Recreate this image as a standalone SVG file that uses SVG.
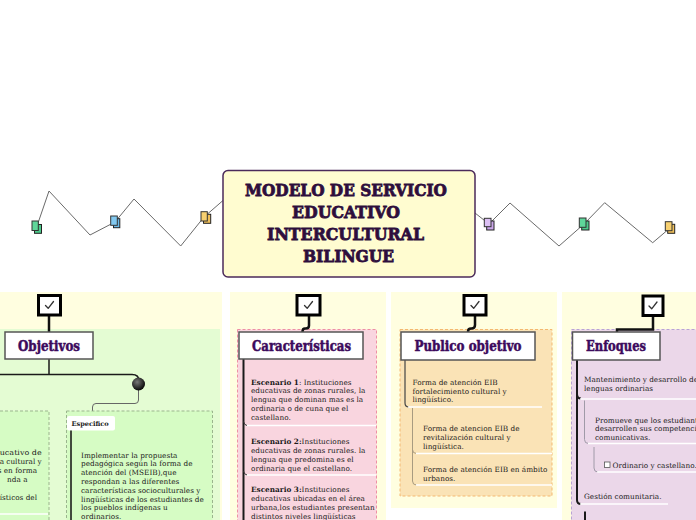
<svg xmlns="http://www.w3.org/2000/svg" width="696" height="520" viewBox="0 0 696 520">
<defs>
<radialGradient id="ball" cx="0.4" cy="0.35" r="0.7">
<stop offset="0" stop-color="#777"/>
<stop offset="1" stop-color="#000"/>
</radialGradient>
<path id="tick" d="M-4,0.5 L-1.3,3.3 L4,-3.5" fill="none" stroke="#333" stroke-width="1.3" stroke-linecap="round" stroke-linejoin="round"/>
<style>
.bg{fill:#fffee0}
.zig{fill:none;stroke:#6a6a6a;stroke-width:1}
.ibk{stroke:#222;stroke-width:1}
.ifr{stroke:#333;stroke-width:1}
.title{font-family:"DejaVu Serif",serif;font-weight:bold;font-size:17px;fill:#2e0e3c;stroke:#2e0e3c;stroke-width:0.8;text-anchor:middle}
.head{font-family:"DejaVu Serif",serif;font-weight:bold;font-size:14px;fill:#3c0a5c;stroke:#3c0a5c;stroke-width:0.5;text-anchor:middle}
.hbox{fill:#fff;stroke:#555;stroke-width:1.5}
.chk{fill:#fff;stroke:#000;stroke-width:3}
.t{font-family:"DejaVu Serif",serif;font-size:7.3px;fill:#1a1a1a}
.tb{font-weight:bold}
.dash{stroke-width:1;stroke-dasharray:3,2}
.blk{fill:none;stroke:#1a1a1a;stroke-width:2}
.thin{fill:none;stroke:#444;stroke-width:1.2}
.gry{fill:none;stroke:#a89b80;stroke-width:1}
.wht{fill:none;stroke:#fff;stroke-width:1.5}
</style>
</defs>
<rect width="696" height="520" fill="#fff"/>

<!-- panel backgrounds -->
<g id="panels">
<rect class="bg" x="0" y="292" width="222" height="228"/>
<rect x="0" y="329" width="220" height="191" fill="#e4fcd3"/>
<rect class="bg" x="230" y="292" width="156" height="228"/>
<rect x="237.5" y="329.5" width="139" height="200" fill="#f9d5df" stroke="#ee8fa5" class="dash"/>
<rect class="bg" x="391" y="292" width="166" height="216"/>
<rect x="400" y="329.5" width="152" height="166.5" fill="#fae3b6" stroke="#f4b870" class="dash"/>
<rect class="bg" x="562" y="292" width="140" height="228"/>
<rect x="571.5" y="329.5" width="130" height="200" fill="#ebd7e9" stroke="#b9a3d6" class="dash"/>
</g>

<!-- connectors -->
<g id="connectors">
<polyline class="zig" points="223,200.5 204,217 180.7,246 134,199 115,222 90,235 49,191 37,226"/>
<polyline class="zig" points="475,213 489,224 510,203 559,246 584,224 604.7,202.7 652.7,242.7 670,228"/>
<!-- Objetivos -->
<line x1="49" y1="316" x2="49" y2="332" stroke="#111" stroke-width="2.5"/>
<path class="blk" style="stroke-width:1.5" d="M49,359 V374.5 M0,374.5 H132 Q139,374.5 139,381"/>
<path fill="none" stroke="#666" stroke-width="1" d="M138.5,390 V400 Q138.5,403.5 135,403.5 H96 Q92.5,403.5 92.5,407 V411"/>
<!-- Caracteristicas -->
<path d="M309,316 V325.5 Q309,328.5 306,328.5 H305 Q302.5,328.5 302.5,331.5 V332" fill="none" stroke="#111" stroke-width="2.5"/>
<line class="blk" x1="243.5" y1="359" x2="243.5" y2="520"/>
<path class="wht" d="M246,425.5 H376 M246,475 H376"/>
<path d="M243.5,421.5 Q244,425 247,425.5 M243.5,471 Q244,474.5 247,475" fill="none" stroke="#333" stroke-width="1"/>
<!-- Publico objetivo -->
<path d="M475,316 V325 Q475,328.5 471.5,328.5 H471 Q468,328.5 468,331.5 V332" fill="none" stroke="#111" stroke-width="2.5"/>
<path class="thin" d="M405,360 V403 Q405,407 409,407"/>
<line class="wht" x1="408" y1="407" x2="542" y2="407"/>
<path class="gry" d="M412.5,408 V449.5 Q412.5,453.5 416.5,453.5 M412.5,449 V481 Q412.5,485 416.5,485"/>
<path class="wht" d="M416,453.5 H552 M416,485 H552"/>
<!-- Enfoques -->
<path d="M653,317 V329.5 H617 V332" fill="none" stroke="#111" stroke-width="2.5"/>
<path class="blk" d="M577,360 V500 Q577,504 581,504 M577,394 Q577,398.5 581,398.5"/>
<path class="wht" d="M580,399 H696 M580,504 H668"/>
<path class="gry" style="stroke:#a09aa8" d="M584.5,400.5 V439.5 Q584.5,443.5 588.5,443.5"/>
<line class="wht" x1="588" y1="443.5" x2="696" y2="443.5"/>
<path class="gry" style="stroke:#a09aa8" d="M594,447 V468 Q594,472 598,472"/>
<line class="wht" x1="597" y1="472" x2="696" y2="472"/>
<line class="blk" x1="585" y1="511.5" x2="585" y2="520"/>
</g>

<!-- icons on zigzag -->
<g id="icons">
<rect class="ibk" x="34.5" y="224.5" width="7" height="8.8" fill="#4cc98a"/>
<rect class="ifr" x="32" y="221" width="6.3" height="9.5" fill="#5fd69a"/>
<rect class="ibk" x="113.5" y="218.7" width="6.3" height="9" fill="#6ab8e6"/>
<rect class="ifr" x="110.7" y="216" width="6.6" height="9.3" fill="#82c8ef"/>
<rect class="ibk" x="203.5" y="214.3" width="7.2" height="9" fill="#f0c05a"/>
<rect class="ifr" x="201" y="211.7" width="6.3" height="9.3" fill="#f7d070"/>
<rect class="ibk" x="486.7" y="221" width="7.3" height="9" fill="#c9a6e8"/>
<rect class="ifr" x="484.3" y="218.3" width="6.7" height="8.4" fill="#dcc0f4"/>
<rect class="ibk" x="581.7" y="221" width="7.3" height="9" fill="#4cc98a"/>
<rect class="ifr" x="579.3" y="218" width="6.7" height="9.3" fill="#5fd69a"/>
<rect class="ibk" x="667.7" y="224.3" width="7" height="9" fill="#f0c05a"/>
<rect class="ifr" x="665.3" y="221.7" width="6.7" height="9" fill="#f7d070"/>
</g>

<!-- central node -->
<g id="central">
<rect x="223" y="170.5" width="252" height="106.5" rx="5" fill="#fffcd0" stroke="#4b2a5a" stroke-width="1.5"/>
<text class="title" x="346" y="196" textLength="202" lengthAdjust="spacingAndGlyphs">MODELO DE SERVICIO</text>
<text class="title" x="346" y="217.5" textLength="108" lengthAdjust="spacingAndGlyphs">EDUCATIVO</text>
<text class="title" x="345.5" y="240" textLength="157" lengthAdjust="spacingAndGlyphs">INTERCULTURAL</text>
<text class="title" x="348.5" y="262" textLength="91" lengthAdjust="spacingAndGlyphs">BILINGUE</text>
</g>

<!-- Objetivos -->
<g id="objetivos">
<rect class="chk" x="38.5" y="295.5" width="22" height="19.5"/>
<use href="#tick" x="49.5" y="305"/>
<rect class="hbox" x="5" y="332" width="88" height="27"/>
<text class="head" x="49" y="350.5" textLength="62" lengthAdjust="spacingAndGlyphs">Objetivos</text>
<circle cx="138.5" cy="384" r="6.5" fill="url(#ball)"/>
</g>

<g id="general">
<rect x="-5" y="411" width="54" height="120" fill="#d6fcc4" stroke="#9bb58e" class="dash"/>
<line class="wht" x1="0" y1="514" x2="48" y2="514"/>
<text class="t" text-anchor="end" x="41.7" y="455" textLength="42" lengthAdjust="spacingAndGlyphs">ucativo de</text>
<text class="t" text-anchor="end" x="41.7" y="464">a cultural y</text>
<text class="t" text-anchor="end" x="37" y="472.7">s en forma</text>
<text class="t" text-anchor="end" x="27.5" y="481.7">nda a</text>
<text class="t" text-anchor="end" x="37" y="499.8">ísticos del</text>
</g>

<g id="especifico">
<rect x="66.5" y="411" width="146" height="120" fill="#d6fcc4" stroke="#9bb58e" class="dash"/>
<rect x="67" y="416" width="48" height="14.5" rx="2" fill="#fff"/>
<text class="t tb" x="71.5" y="426" style="font-size:6.6px">Especifico</text>
<line x1="71" y1="430.5" x2="71" y2="520" stroke="#111" stroke-width="1.5"/>
<text class="t" x="81" y="457.5">Implementar la propuesta</text>
<text class="t" x="81" y="466.3">pedagógica según la forma de</text>
<text class="t" x="81" y="475.1">atención del (MSEIB),que</text>
<text class="t" x="81" y="483.9">respondan a las diferentes</text>
<text class="t" x="81" y="492.7">características socioculturales y</text>
<text class="t" x="81" y="501.5">lingüísticas de los estudiantes de</text>
<text class="t" x="81" y="510.3">los pueblos indígenas u</text>
<text class="t" x="81" y="519.1">ordinarios.</text>
</g>

<!-- Caracteristicas -->
<g id="caracteristicas">
<rect class="chk" x="297" y="295.5" width="23" height="19.5"/>
<use href="#tick" x="308.5" y="305"/>
<rect class="hbox" x="239" y="332" width="124" height="27"/>
<text class="head" x="301.5" y="350.5" textLength="99" lengthAdjust="spacingAndGlyphs">Características</text>
<text class="t" x="251" y="384.5"><tspan class="tb">Escenario 1</tspan>: Instituciones</text>
<text class="t" x="251" y="393.4">educativas de zonas rurales, la</text>
<text class="t" x="251" y="402.3">lengua que dominan mas es la</text>
<text class="t" x="251" y="411.2">ordinaria o de cuna que el</text>
<text class="t" x="251" y="420.1">castellano.</text>
<text class="t" x="251" y="443.8"><tspan class="tb">Escenario 2:</tspan>Instituciones</text>
<text class="t" x="251" y="452.7">educativas de zonas rurales. la</text>
<text class="t" x="251" y="461.6">lengua que predomina es el</text>
<text class="t" x="251" y="470.5">ordinaria que el castellano.</text>
<text class="t" x="251" y="491.8"><tspan class="tb">Escenario 3:</tspan>Instituciones</text>
<text class="t" x="251" y="500.7">educativas ubicadas en el área</text>
<text class="t" x="251" y="509.6">urbana,los estudiantes presentan</text>
<text class="t" x="251" y="518.5">distintos niveles lingüísticas</text>
</g>

<!-- Publico objetivo -->
<g id="publico">
<rect class="chk" x="464" y="295.5" width="22" height="19.5"/>
<use href="#tick" x="475" y="305"/>
<rect class="hbox" x="401" y="332" width="134" height="28"/>
<text class="head" x="468" y="351" textLength="107" lengthAdjust="spacingAndGlyphs">Publico objetivo</text>
<text class="t" x="412.5" y="384.5">Forma de atención EIB</text>
<text class="t" x="412.5" y="393.5">fortalecimiento cultural y</text>
<text class="t" x="412.5" y="402.3">lingüístico.</text>
<text class="t" x="423" y="431">Forma de atencion EIB de</text>
<text class="t" x="423" y="440">revitalización cultural y</text>
<text class="t" x="423" y="449">lingüística.</text>
<text class="t" x="423" y="471.5">Forma de atención EIB en ámbito</text>
<text class="t" x="423" y="480.5">urbanos.</text>
</g>

<!-- Enfoques -->
<g id="enfoques">
<rect class="chk" x="643" y="296" width="20" height="19.5"/>
<use href="#tick" x="653" y="305.5"/>
<rect class="hbox" x="572.5" y="332" width="87.5" height="28"/>
<text class="head" x="616" y="351" textLength="60" lengthAdjust="spacingAndGlyphs">Enfoques</text>
<text class="t" x="584" y="381.5">Mantenimiento y desarrollo de</text>
<text class="t" x="584" y="390.5">lenguas ordinarias</text>
<text class="t" x="595" y="422.5">Promueve que los estudiantes</text>
<text class="t" x="595" y="431.2">desarrollen sus competencias</text>
<text class="t" x="595" y="440">comunicativas.</text>
<rect x="604.5" y="462" width="5.5" height="5.5" fill="#fff" stroke="#555" stroke-width="0.8"/>
<text class="t" x="612.5" y="467.5">Ordinario y castellano.</text>
<text class="t" x="584" y="498.5">Gestión comunitaria.</text>
</g>
</svg>
